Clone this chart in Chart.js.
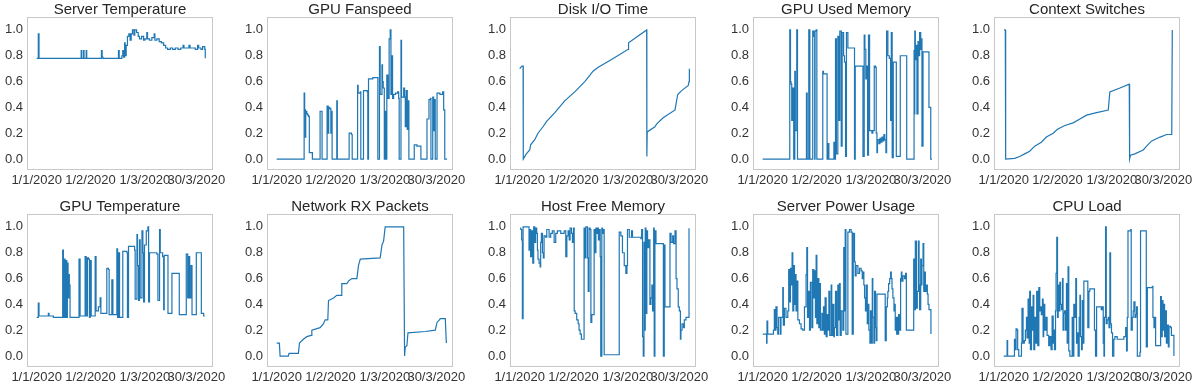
<!DOCTYPE html>
<html lang="en">
<head>
<meta charset="UTF-8">
<title>Server Metrics</title>
<script src="https://cdn.jsdelivr.net/npm/chart.js"></script>
<style>
    html, body {
        margin: 0;
        padding: 0;
        background: #fff;
        overflow: hidden;
    }
    .panel {
        position: absolute;
        width: 256px;
        height: 194px;
    }
</style>
</head>
<body>
<div id="grid"></div>
<script>
// x values are days since 1/1/2020
const tickDays = [0, 30, 60.3, 89];
const tickLabels = ['1/1/2020', '1/2/2020', '1/3/2020', '30/3/2020'];
const yTicks = [0, 0.2, 0.4, 0.6, 0.8, 1.0];

const serverTemperature = [[0,0.78],[0.9,0.97],[1.3,0.78],[24.8,0.84],[25.1,0.78],[26.1,0.84],[26.4,0.78],[27.6,0.84],[27.9,0.78],[36.1,0.84],[36.5,0.79],[36.9,0.78],[45.6,0.84],[46,0.78],[47.5,0.8],[48,0.84],[48.4,0.79],[49,0.9],[49.3,0.8],[49.9,0.88],[50.6,0.95],[51.4,0.97],[52.1,0.92],[52.7,0.97],[53.4,1.0],[54.2,0.96],[54.7,1.0],[55.7,0.98],[56.6,0.95],[57.3,0.93],[58.5,0.95],[59.6,0.92],[60.3,0.93],[61.4,0.98],[61.8,0.93],[62.9,0.92],[64.2,0.94],[65.5,0.97],[65.9,0.92],[67,0.93],[68.3,0.91],[69.5,0.9],[70.8,0.88],[71.9,0.86],[73,0.85],[74.5,0.86],[75.8,0.85],[77.3,0.86],[78.8,0.85],[80.3,0.86],[81.6,0.88],[82.1,0.86],[83.8,0.86],[84.9,0.88],[85.5,0.86],[87.1,0.86],[88.4,0.85],[89.7,0.88],[90.3,0.86],[91.6,0.85],[92.5,0.87],[93.7,0.85],[94,0.78]];

const gpuFanspeed = [[0,0],[15.3,0.51],[15.6,0.38],[16,0.17],[16.2,0.37],[16.8,0.35],[17.3,0.34],[17.7,0.33],[18.2,0.05],[19.2,0.05],[19.9,0],[24.2,0.37],[25.3,0],[28.1,0.41],[28.7,0.2],[29,0.4],[29.6,0.39],[30.2,0.2],[30.4,0.37],[30.9,0],[33.5,0.45],[33.8,0],[40.4,0.2],[41.7,0.19],[42.1,0],[45.1,0.57],[45.4,0.51],[46.6,0.52],[46.9,0],[48.4,0.53],[50.5,0.52],[50.8,0],[51.2,0.62],[53.6,0.63],[56,0.63],[56.4,0],[57.3,0.87],[57.7,0.5],[58.3,0.5],[58.7,0.73],[59,0.6],[59.4,0.55],[60,0],[60.5,0.37],[60.9,0],[61.4,0.65],[62,0.47],[62.7,0.93],[63.3,1.0],[63.7,0.5],[64.2,0.8],[64.6,0.47],[65.2,0.5],[66.3,0.51],[67.4,0.52],[68,0.47],[68.3,0],[69.3,0.92],[69.6,0.48],[70.8,0.55],[71.3,0.48],[71.7,0.25],[72.2,0.53],[72.8,0.23],[73.2,0.45],[73.7,0],[76.7,0.11],[78.2,0.1],[80.4,0],[83.8,0.31],[84.9,0.46],[85.7,0.47],[86,0],[87,0.48],[87.5,0.22],[87.9,0.46],[88.4,0],[89.4,0.51],[91,0.5],[92.5,0.52],[93.1,0.38],[93.7,0],[95,0]];

const diskIoTime = [[0,0.7],[1.3,0.72],[1.9,0.72],[2,0],[3.7,0.04],[5.6,0.07],[6.1,0.11],[8.4,0.15],[10.2,0.2],[13,0.25],[14.9,0.29],[19.6,0.36],[25.1,0.45],[30.7,0.52],[36.3,0.6],[40.9,0.68],[43.8,0.71],[51.2,0.77],[60.5,0.85],[60.7,0.9],[70.8,1.0],[70.9,0.02],[71.1,0.21],[75.4,0.25],[76.3,0.27],[80,0.32],[86.6,0.38],[88.1,0.5],[90.3,0.53],[94,0.57],[94.4,0.6],[94.6,0.7]];

const gpuUsedMemory = [[0,0],[15.1,1.0],[15.5,0.6],[15.8,0.58],[16.2,0.3],[16.8,0.55],[17.3,0],[17.9,0.68],[18.2,0.22],[19,1.0],[19.4,0],[24.4,0.51],[24.8,0],[25.7,1.0],[26.3,0],[27.9,0.99],[28.5,0.95],[29,0],[29.2,0.99],[29.8,1.0],[30.2,0],[33.5,0.68],[33.9,0.66],[35.9,0],[36.3,0.12],[36.9,0],[39.7,0.13],[40,0],[40.6,0.93],[41.1,0.04],[41.9,0.95],[42.5,0.3],[43,0.99],[43.8,0.1],[44.3,0.98],[45.1,0.8],[45.6,0.75],[46.2,0.02],[46.7,0.98],[47.5,0.86],[51.2,0],[51.6,0.72],[55.9,0.02],[56.6,0.96],[57,0.85],[57.5,0.62],[58.1,0.72],[58.5,0.03],[59,0.96],[59.6,0.22],[60.9,0.2],[61.4,0.22],[62.2,0.72],[62.9,0.71],[63.3,0.2],[63.7,0.05],[64,0.15],[64.8,0.12],[65.4,0.16],[65.9,0.13],[66.5,0.17],[67,0.14],[67.6,0.19],[68.1,0.15],[68.7,0.05],[69.1,0.99],[69.8,0.8],[70.6,0.78],[71.3,0.3],[71.7,0.98],[72.2,0.01],[72.8,0.75],[74.5,0.02],[76.7,0.8],[80.3,0],[84.4,0.84],[84.6,0.35],[84.8,0.99],[85.1,0.77],[85.7,0.88],[86,0.35],[86.6,0.91],[87.1,0.8],[87.5,0.98],[88.1,0.85],[88.5,0.93],[88.8,0.1],[89.4,0.83],[92.7,0.4],[93.7,0],[94.4,0]];

const contextSwitches = [[0.2,1.0],[0.9,1.0],[1.1,0],[6.1,0.005],[8.9,0.02],[11.7,0.04],[14.5,0.06],[17.3,0.1],[21,0.13],[23.8,0.17],[27.6,0.2],[30,0.23],[34.1,0.26],[38.7,0.28],[42.5,0.31],[46.2,0.34],[51.8,0.36],[58.3,0.38],[59.2,0.52],[64.8,0.55],[70,0.58],[70.2,0],[70.7,0.03],[73.1,0.04],[77.8,0.07],[79.7,0.1],[82.5,0.14],[87.2,0.17],[90.9,0.19],[93.7,0.19],[94,1.0]];

const gpuTemperature = [[0,0.3],[0.9,0.41],[1.3,0.31],[6.5,0.33],[6.9,0.31],[9.3,0.3],[14.5,0.82],[14.9,0.3],[15.3,0.75],[15.8,0.3],[16.2,0.74],[16.8,0.3],[17.1,0.72],[17.5,0.45],[17.9,0.63],[18.2,0.55],[18.6,0.3],[23.6,0.75],[24.2,0.31],[27,0.77],[27.6,0.31],[28.3,0.76],[28.9,0.75],[29.4,0.3],[29.8,0.74],[30.4,0.31],[32.6,0.77],[33.1,0.35],[34.4,0.38],[35.4,0.45],[35.8,0.33],[39.1,0.68],[40,0.67],[40.4,0.32],[41.9,0.59],[42.5,0.32],[44.7,0.83],[45.1,0.3],[45.6,0.8],[46.2,0.3],[48,0.81],[50.3,0.8],[50.6,0.3],[51.2,0.85],[54.6,0.82],[54.9,0.44],[55.9,0.94],[56.2,0.7],[56.8,0.43],[57.3,0.9],[57.7,0.45],[58.7,0.97],[59.2,0.8],[59.6,0.42],[60.1,0.86],[61.1,0.97],[62,1.0],[62.4,0.42],[62.9,0.8],[67,0.79],[67.6,0.43],[68.5,0.98],[68.9,0.8],[70.2,0.77],[70.8,0.36],[71.1,0.78],[72.6,0.78],[73.2,0.33],[75.4,0.64],[79.5,0.32],[83.4,0.79],[84.2,0.45],[84.7,0.77],[85.3,0.45],[86,0.7],[86.6,0.32],[89,0.8],[91.8,0.33],[93.1,0.31],[93.7,0.31]];

const networkRxPackets = [[0,0.1],[1.5,0.1],[1.9,0],[6.5,0],[6.9,0.02],[12.1,0.02],[12.7,0.1],[14.9,0.13],[15.8,0.14],[16.8,0.15],[19.2,0.16],[19.6,0.2],[24.2,0.22],[26.1,0.25],[27,0.28],[28.5,0.28],[28.9,0.43],[31.7,0.45],[33.5,0.47],[35.9,0.47],[36.3,0.56],[39.1,0.56],[40,0.58],[41.9,0.6],[44.7,0.6],[45.6,0.7],[46.6,0.75],[57.7,0.76],[58.7,0.86],[59.6,0.89],[60.5,1.0],[70.8,1.0],[71.3,0],[71.7,0.07],[72.6,0.08],[73.2,0.18],[82.9,0.19],[88.4,0.2],[89.4,0.26],[90.7,0.28],[91.2,0.29],[94,0.29],[94.6,0.1]];

const hostFreeMemory = [[0.2,0.99],[0.6,0.98],[1.1,0.9],[1.5,0.29],[1.9,1.0],[5.2,0.82],[5.6,0.98],[6.1,0.77],[6.7,0.97],[7.3,0.72],[7.8,1.0],[8.4,0.88],[8.9,0.99],[9.5,0.95],[9.9,0.82],[10.2,0.75],[10.8,0.72],[11.4,0.69],[11.7,0.88],[12.1,0.95],[12.7,0.8],[13.2,0.76],[13.6,0.93],[14.5,0.92],[15.1,0.98],[16.4,0.92],[17.3,0.95],[18.2,0.97],[19.2,0.88],[20.1,0.95],[21,0.97],[22.9,0.95],[24.8,0.97],[25.7,0.77],[26.3,0.93],[27,0.97],[27.6,0.9],[28.1,0.99],[28.9,0.95],[29.4,0.88],[30,0.99],[30.4,0.35],[30.9,0.33],[31.8,0.28],[32.6,0.25],[33.1,0.2],[33.7,0.17],[34.4,0.13],[35.6,0.13],[35.9,0.99],[36.5,0.76],[36.9,1.0],[37.8,0.76],[38.2,0.5],[38.7,0.99],[39.3,0.98],[39.7,0.26],[40.2,0.32],[41.2,0.32],[41.5,0.98],[41.9,0.8],[42.5,0.99],[43,0.95],[43.4,0.99],[43.9,0.9],[44.3,0.98],[44.9,0.77],[45.2,0],[45.8,0.99],[46.2,0.95],[46.6,0.98],[47.1,0.01],[55.5,0.96],[56.4,0.93],[57.3,0.8],[58.3,0.7],[59.2,0.64],[59.8,0.7],[60.1,0.98],[61.1,0.92],[62.4,0.97],[62.9,0.92],[67.6,0.91],[68,0.98],[68.5,0.15],[68.9,0],[69.3,0.88],[69.6,0.2],[70,0.99],[70.4,0.33],[70.9,0.97],[71.3,0.84],[71.9,0.9],[72.6,0.4],[73.2,0.45],[73.7,0.55],[74.1,0.35],[74.7,0.99],[75,0],[75.4,0.97],[76,0.87],[80.1,0],[80.6,0.86],[81,0.38],[83.8,0.95],[84.4,0.88],[85.3,0.93],[85.8,0.87],[86.6,0.97],[87.2,0.6],[87.7,0.52],[88.4,0.38],[89,0.35],[89.6,0.13],[89.9,0.2],[90.5,0.25],[91.3,0.22],[91.8,0.28],[92.7,0.3],[94,0.3],[94.4,0.99]];

const serverPowerUsage = [[0,0.17],[2.2,0.1],[2.4,0.27],[2.8,0.17],[6,0.2],[6.5,0.36],[6.9,0.2],[7.4,0.38],[8,0.22],[8.4,0.17],[8.9,0.3],[9.9,0.17],[10.2,0.3],[11.2,0.53],[11.5,0.24],[12.1,0.37],[13,0.3],[14,0.35],[14.5,0.67],[15.1,0.42],[15.5,0.68],[15.8,0.55],[16.4,0.8],[16.8,0.35],[17.3,0.7],[17.7,0.4],[18.1,0.63],[18.6,0.35],[19.2,0.58],[19.6,0.28],[20.5,0.25],[21.4,0.21],[22.3,0.2],[23.3,0.38],[24.2,0.63],[24.6,0.84],[25,0.3],[25.5,0.5],[26.1,0.2],[26.6,0.57],[27.4,0.22],[27.9,0.67],[28.5,0.45],[28.9,0.66],[29.4,0.3],[29.8,0.78],[30.2,0.25],[30.7,0.6],[31.3,0.22],[31.7,0.56],[32.2,0.2],[33,0.33],[33.5,0.2],[33.9,0.38],[34.4,0.17],[34.8,0.45],[35.4,0.15],[35.9,0.32],[36.3,0.2],[36.9,0.5],[37.4,0.16],[38.2,0.55],[38.5,0.16],[39.1,0.4],[39.7,0.15],[40,0.22],[40.6,0.5],[41.2,0.16],[41.9,0.55],[42.3,0.28],[42.8,0.56],[43.2,0.16],[43.8,0.35],[44.7,0.2],[45.2,0.84],[45.6,0.35],[46,0.98],[46.4,0.17],[47.5,0.96],[48.4,0.98],[49.3,0.96],[49.9,0.17],[50.5,0.95],[51.2,0.73],[51.6,0.62],[52.1,0.7],[53.1,0.64],[54,0.68],[54.9,0.66],[55.5,0.6],[55.9,0.65],[56.4,0.55],[56.8,0.45],[57.3,0.35],[57.7,0.55],[58.3,0.25],[58.7,0.4],[59.2,0.2],[59.8,0.1],[60.1,0.35],[60.5,0.1],[61.1,0.6],[61.4,0.3],[62,0.1],[62.4,0.5],[62.9,0.22],[63.3,0.12],[63.7,0.48],[68,0.48],[68.3,0.12],[68.9,0.38],[69.5,0.45],[69.8,0.5],[70.2,0.56],[70.8,0.6],[71.3,0.65],[71.7,0.6],[72.1,0.52],[72.6,0.45],[73.2,0.35],[73.5,0.4],[73.9,0.2],[74.3,0.3],[74.7,0.17],[75,0.3],[75.4,0.17],[75.8,0.32],[76.3,0.2],[76.9,0.6],[77.3,0.65],[77.6,0.58],[78.2,0.62],[79.1,0.6],[79.7,0.64],[80.1,0.2],[84.2,0.75],[84.7,0.36],[85.1,0.89],[85.7,0.37],[86.2,0.5],[86.8,0.89],[87.2,0.55],[87.5,0.36],[88.1,0.75],[88.5,0.55],[88.8,0.7],[89.4,0.87],[89.8,0.5],[90.3,0.65],[90.7,0.5],[91.3,0.55],[91.8,0.48],[92.2,0.4],[92.7,0.36],[93.5,0.36],[93.8,0.17]];

const cpuLoad = [[0,0],[1.9,0.12],[2.2,0],[6,0.13],[6.5,0.05],[6.9,0.21],[7.4,0.2],[7.8,0.05],[8.4,0],[9.9,0.1],[10.2,0.37],[10.8,0.1],[11.5,0.12],[12.1,0.2],[12.7,0.3],[13,0.14],[13.6,0.44],[14.2,0.1],[14.5,0.5],[14.9,0.05],[15.5,0.38],[16,0.2],[16.4,0.47],[16.8,0.05],[17.3,0.3],[17.9,0.1],[18.4,0.5],[19,0.08],[19.6,0.53],[20.1,0.35],[20.5,0.38],[21,0.32],[21.6,0.44],[22,0.15],[22.3,0.4],[22.9,0.2],[23.6,0.3],[24.2,0.16],[25.1,0.08],[25.7,0.15],[26.4,0.05],[27,0.31],[27.6,0.1],[27.9,0.2],[28.3,0.05],[28.9,0.35],[29.2,0.64],[29.6,0.92],[30,0.3],[30.4,0.55],[30.7,0.35],[31.3,0.57],[31.7,0.4],[32.2,0.36],[32.8,0.6],[33.1,0.2],[33.5,0.33],[33.9,0.35],[34.4,0.2],[35,0.56],[35.4,0.1],[35.9,0.69],[36.3,0.04],[36.9,0],[38.2,0.3],[38.5,0],[39.1,0.4],[39.7,0.3],[40.2,0.6],[40.6,0.1],[41,0.18],[41.5,0],[42.1,0.3],[42.5,0.47],[42.8,0.15],[43.4,0.05],[43.8,0.43],[44.3,0.1],[44.7,0.58],[46.6,0.58],[46.9,0.22],[47.5,0.5],[48,0.52],[50.3,0.52],[50.6,0.2],[51.2,0],[51.8,0.38],[54,0.38],[54.4,0.36],[54.9,0.38],[55.5,0.1],[55.9,0],[56.2,0.3],[56.8,1.0],[57.2,0.25],[57.7,0.28],[58.3,0.3],[58.7,0.22],[59.2,0.8],[59.6,0.25],[60.1,0.18],[60.7,0],[61.4,0.13],[62,0.15],[63.3,0.13],[66.1,0.13],[67,0.15],[68,0.22],[68.5,0.04],[68.9,0.3],[69.3,0.97],[70.8,0.98],[71.1,0.2],[71.7,0.3],[72.2,0.35],[72.6,0.42],[73.2,0.3],[73.7,0.32],[74.1,0.38],[74.5,0],[76,0.03],[76.3,0.97],[79.1,0.97],[79.5,0.07],[80.1,0.53],[82.9,0.54],[83.2,0.3],[83.8,0.22],[84.2,0.3],[84.7,0.08],[87.1,0.08],[87.5,0.46],[87.9,0.15],[88.4,0.43],[88.8,0.2],[89.4,0.4],[89.7,0.15],[90.3,0.35],[90.7,0.1],[91.2,0.24],[91.8,0.07],[92.2,0.23],[93.1,0.22],[93.5,0.16],[94.6,0.16],[94.9,0]];

const panels = [
    { title: 'Server Temperature', data: serverTemperature, stepped: true },
    { title: 'GPU Fanspeed', data: gpuFanspeed, stepped: true },
    { title: 'Disk I/O Time', data: diskIoTime, stepped: false },
    { title: 'GPU Used Memory', data: gpuUsedMemory, stepped: true },
    { title: 'Context Switches', data: contextSwitches, stepped: false },
    { title: 'GPU Temperature', data: gpuTemperature, stepped: true },
    { title: 'Network RX Packets', data: networkRxPackets, stepped: false },
    { title: 'Host Free Memory', data: hostFreeMemory, stepped: true },
    { title: 'Server Power Usage', data: serverPowerUsage, stepped: true },
    { title: 'CPU Load', data: cpuLoad, stepped: true }
];

// plot frame left edges and row tops (page pixels)
const boxLefts = [27, 267, 510, 753, 994];
const rowTops = [0, 197];
const yAxisWidth = 40;

Chart.defaults.font.family = '"Liberation Sans", Arial, sans-serif';
Chart.defaults.color = '#333';

const framePlugin = {
    id: 'frame',
    afterDatasetsDraw(chart) {
        const { ctx, chartArea: a } = chart;
        ctx.save();
        ctx.strokeStyle = '#c8c8c8';
        ctx.lineWidth = 1;
        ctx.strokeRect(Math.round(a.left) + 0.5, Math.round(a.top) + 0.5,
                       Math.round(a.width) - 1, Math.round(a.height) - 1);
        ctx.restore();
    }
};

const grid = document.getElementById('grid');

panels.forEach((p, i) => {
    const div = document.createElement('div');
    div.className = 'panel';
    div.style.left = (boxLefts[i % 5] - yAxisWidth) + 'px';
    div.style.top = rowTops[Math.floor(i / 5)] + 'px';
    const canvas = document.createElement('canvas');
    canvas.width = 256;
    canvas.height = 194;
    div.appendChild(canvas);
    grid.appendChild(div);

    new Chart(canvas.getContext('2d'), {
        type: 'line',
        data: {
            datasets: [{
                data: p.data.map(d => ({ x: d[0], y: d[1] })),
                borderColor: '#1f77b4',
                borderWidth: 1.2,
                pointRadius: 0,
                stepped: p.stepped,
                tension: 0,
                fill: false
            }]
        },
        options: {
            responsive: false,
            animation: false,
            events: [],
            layout: { padding: { left: 0, right: 30, top: 0, bottom: 0 } },
            plugins: {
                legend: { display: false },
                tooltip: { enabled: false },
                title: {
                    display: true,
                    fullSize: false,
                    text: p.title,
                    color: '#262626',
                    font: { size: 15, weight: 'normal', lineHeight: 1 },
                    padding: { top: 2, bottom: 0 }
                }
            },
            scales: {
                x: {
                    type: 'linear',
                    min: -5.4,
                    max: 98.3,
                    grid: { display: false, drawTicks: false },
                    border: { display: false },
                    afterBuildTicks: s => { s.ticks = tickDays.map(v => ({ value: v })); },
                    afterFit: s => { s.height = 24; s.paddingLeft = 0; s.paddingRight = 0; },
                    ticks: {
                        autoSkip: false,
                        maxRotation: 0,
                        padding: 3,
                        font: { size: 13 },
                        callback: (v, idx) => tickLabels[idx]
                    }
                },
                y: {
                    min: -0.085,
                    max: 1.1,
                    grid: { display: false, drawTicks: false },
                    border: { display: false },
                    afterBuildTicks: s => { s.ticks = yTicks.map(v => ({ value: v })); },
                    afterFit: s => { s.width = yAxisWidth; s.paddingTop = 0; s.paddingBottom = 0; },
                    ticks: {
                        padding: 4,
                        font: { size: 13 },
                        callback: v => v.toFixed(1)
                    }
                }
            }
        },
        plugins: [framePlugin]
    });
});
</script>
</body>
</html>
